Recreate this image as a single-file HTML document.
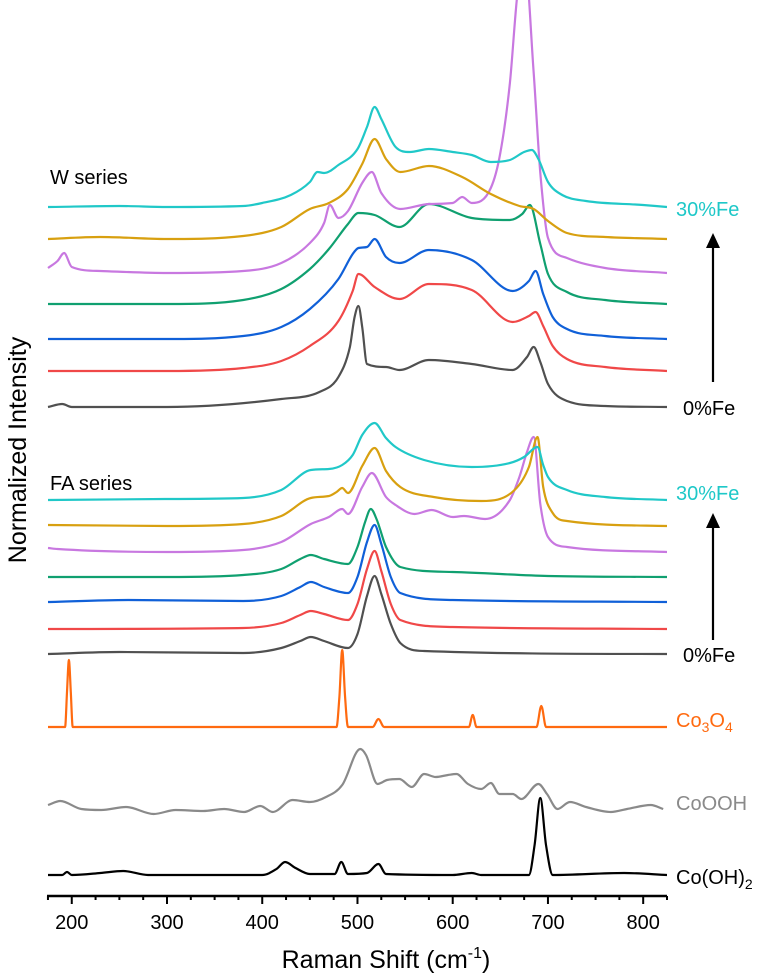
<!DOCTYPE html>
<html><head><meta charset="utf-8"><style>
html,body{margin:0;padding:0;background:#fff;}
svg{display:block;font-family:"Liberation Sans",Arial,sans-serif;}
</style></head><body>
<svg id="chart" width="774" height="979" viewBox="0 0 774 979" xmlns="http://www.w3.org/2000/svg">
<defs><clipPath id="plotclip"><rect x="47" y="0" width="620" height="896"/></clipPath></defs>
<g id="series" clip-path="url(#plotclip)"></g>
<g id="axis"></g>
<text x="50" y="184" font-size="20" fill="#000">W series</text>
<text x="50" y="490" font-size="20" fill="#000">FA series</text>
<text x="676" y="216" font-size="20" fill="#1ec8c8">30%Fe</text>
<text x="683" y="415" font-size="20" fill="#000">0%Fe</text>
<text x="676" y="500" font-size="20" fill="#1ec8c8">30%Fe</text>
<text x="683" y="662" font-size="20" fill="#000">0%Fe</text>
<text x="676" y="727" font-size="20" fill="#ff6a10">Co<tspan font-size="14" dy="5">3</tspan><tspan dy="-5">O</tspan><tspan font-size="14" dy="5">4</tspan></text>
<text x="676" y="810" font-size="20" fill="#8a8a8a">CoOOH</text>
<text x="676" y="884" font-size="20" fill="#000">Co(OH)<tspan font-size="14" dy="5">2</tspan></text>
<g><line x1="713" y1="382" x2="713" y2="240" stroke="#000" stroke-width="2.2"/><polygon points="713,233 706,248 720,248" fill="#000"/></g>
<g><line x1="713" y1="640" x2="713" y2="520" stroke="#000" stroke-width="2.2"/><polygon points="713,513 706,528 720,528" fill="#000"/></g>
<text transform="translate(26,450) rotate(-90)" text-anchor="middle" font-size="25" fill="#000">Normalized Intensity</text>
<text x="386" y="968" text-anchor="middle" font-size="25" fill="#000">Raman Shift (cm<tspan font-size="16" dy="-10">-1</tspan><tspan dy="10">)</tspan></text>
</svg>
<script>
// ---- data: wavenumbers & relative heights (arbitrary units) ----
const wCyanX=[175,250,300,380,400,430,450,458,465,480,500,510,518,525,540,555,575,600,620,640,660,675,683,690,700,715,740,800,825];
const wCyanY=[0,1,0,1,4,12,25,35,34,42,58,80,100,88,60,55,58,55,52,45,47,55,57,48,25,12,6,2,0];
const wGoldX=[175,230,300,380,420,450,470,490,505,518,530,545,575,610,640,670,685,700,720,760,825];
const wGoldY=[0,2,0,3,12,30,36,50,75,100,80,67,73,62,45,33,30,18,6,2,0];
const wPurpX=[175,185,192,200,230,300,380,420,450,465,471,480,490,505,515,525,545,575,600,610,620,640,650,660,668,675,685,692,700,720,760,825];
const wPurpY=[5,12,20,6,2,0,2,10,30,50,68,55,62,90,101,80,64,69,70,76,70,85,120,190,280,320,200,100,35,15,5,0];
const wGreenX=[175,300,380,420,450,470,490,501,518,544,575,620,660,673,681,692,700,720,760,825];
const wGreenY=[0,0,4,15,35,55,80,91,89,77,100,86,84,90,99,60,30,12,4,0];
const wBlueX=[175,300,380,420,450,480,495,501,510,518,530,544,575,620,663,680,687,695,705,720,760,825];
const wBlueY=[0,0,3,12,30,60,85,91,92,100,82,76,89,79,48,58,68,45,22,10,3,0];
const wRedX=[175,300,380,420,450,480,495,501,518,544,575,620,663,680,687,695,705,720,760,825];
const wRedY=[0,0,3,10,25,50,80,97,84,72,87,81,49,55,59,45,25,12,4,0];
const wGrayX=[175,190,200,300,420,460,480,492,497,501,505,510,530,544,575,620,663,678,685,692,700,720,760,825];
const wGrayY=[0,3,0,0,8,15,30,60,90,101,80,43,40,37,47,43,37,50,60,45,23,6,1,0];
const faCyanX=[175,300,380,420,451,470,484,495,505,518,530,540,570,620,660,675,689,695,700,720,760,825];
const faCyanY=[0,1,2,10,30,31,35,45,65,77,62,53,40,33,37,43,53,35,23,10,3,0];
const faGoldX=[175,300,380,420,451,470,478,484,490,505,518,530,545,580,630,665,680,689,695,705,720,825];
const faGoldY=[1,0,2,10,28,30,34,38,33,60,78,55,39,29,25,36,59,89,39,13,5,0];
const faPurpX=[175,185,300,380,420,451,470,484,490,505,515,530,540,560,578,600,612,634,660,670,678,685,692,700,720,825];
const faPurpY=[4,3,0,2,10,28,35,43,38,65,79,55,47,38,42,35,36,33,52,75,100,115,48,15,5,0];
const faGreenX=[175,300,380,420,440,451,465,490,500,508,514,520,530,545,600,700,825];
const faGreenY=[0,0,2,8,18,22,18,13,30,55,68,58,30,10,5,1,0];
const faBlueX=[175,260,380,420,440,451,465,490,500,510,518,525,535,545,600,825];
const faBlueY=[0,2,1,6,15,20,15,9,25,60,77,58,25,9,2,0];
const faRedX=[175,380,420,440,451,465,490,500,510,518,525,535,545,600,825];
const faRedY=[0,1,6,14,18,15,9,25,60,78,58,25,9,2,0];
const faGrayX=[175,250,380,420,440,451,465,490,500,510,518,525,535,545,570,825];
const faGrayY=[0,2,1,6,13,17,13,6,20,58,78,60,30,11,3,0];
const co3o4X=[175,193,195,197,199,201,300,400,478,481,484,487,490,516,522,528,600,617,621,625,688,693,698,825];
const co3o4Y=[0,0,35,67,35,0,0,0,0,30,77,30,0,0,8,0,0,0,12,0,0,21,0,0];
const coohX=[175,188,210,231,257,286,309,338,360,381,398,411,432,450,467,484,503,509,521,531,544,557,570,582,595,604,616,630,640,649,663,672,690,699,710,723,740,766,783,808,821];
const coohY=[2,6,-2,-3,0,-7,-3,-4,-2,-5,1,-5,7,5,10,22,58,52,23,27,28,20,33,30,32,33,23,18,24,13,13,8,23,13,-2,5,0,-5,-2,2,-2];
const cohX=[175,190,195,200,230,254,280,400,415,424,435,450,476,483,490,510,522,530,600,620,630,680,686,692,698,705,780,825];
const cohY=[0,0,3,0,2,4,0,0,6,13,7,1,1,13,1,2,11,1,0,2,0,0,30,77,30,0,2,0];

// ---- axis functions ----
const X0=47, X1=667, V0=174, V1=825;
function xs(v){return X0+(v-V0)/(V1-V0)*(X1-X0);}
function ys(base,h){return base-h;}

const g=document.getElementById('series');
const NS='http://www.w3.org/2000/svg';
// monotone cubic path through screen points
function monoPath(px,py){
  const n=px.length, d=[], m=new Array(n);
  for(let i=0;i<n-1;i++) d.push((py[i+1]-py[i])/(px[i+1]-px[i]));
  m[0]=d[0]; m[n-1]=d[n-2];
  for(let i=1;i<n-1;i++){ m[i]=(d[i-1]*d[i]<=0)?0:(d[i-1]+d[i])/2; }
  for(let i=0;i<n-1;i++){
    if(d[i]===0){m[i]=0;m[i+1]=0;continue;}
    const a=m[i]/d[i], b=m[i+1]/d[i], s=a*a+b*b;
    if(s>9){const t=3/Math.sqrt(s); m[i]=t*a*d[i]; m[i+1]=t*b*d[i];}
  }
  let s='M'+px[0].toFixed(1)+','+py[0].toFixed(1);
  for(let i=0;i<n-1;i++){
    const h=(px[i+1]-px[i])/3;
    s+=' C'+(px[i]+h).toFixed(1)+','+(py[i]+m[i]*h).toFixed(1)+' '+(px[i+1]-h).toFixed(1)+','+(py[i+1]-m[i+1]*h).toFixed(1)+' '+px[i+1].toFixed(1)+','+py[i+1].toFixed(1);
  }
  return s;
}
function drawSeries(name,xsArr,ysArr,base,color){
  const p=document.createElementNS(NS,'path');
  
  
  p.setAttribute('d',monoPath(xsArr.map(v=>xs(v)),ysArr.map(h=>ys(base,h))));
  p.setAttribute('fill','none');
  p.setAttribute('stroke',color);
  p.setAttribute('stroke-width','2.2');
  p.setAttribute('stroke-linejoin','round');
  g.appendChild(p);
}
drawSeries('w-series-0fe',wGrayX,wGrayY,407,'#505050');
drawSeries('w-series-red',wRedX,wRedY,371,'#f04848');
drawSeries('w-series-blue',wBlueX,wBlueY,339,'#1060d8');
drawSeries('w-series-green',wGreenX,wGreenY,304,'#10a070');
drawSeries('w-series-purple',wPurpX,wPurpY,273,'#c878e0');
drawSeries('w-series-gold',wGoldX,wGoldY,239,'#d8a010');
drawSeries('w-series-30fe',wCyanX,wCyanY,207,'#20c8c8');
drawSeries('fa-series-0fe',faGrayX,faGrayY,654,'#505050');
drawSeries('fa-series-red',faRedX,faRedY,629,'#f04848');
drawSeries('fa-series-blue',faBlueX,faBlueY,602,'#1060d8');
drawSeries('fa-series-green',faGreenX,faGreenY,577,'#10a070');
drawSeries('fa-series-purple',faPurpX,faPurpY,552,'#c878e0');
drawSeries('fa-series-gold',faGoldX,faGoldY,526,'#d8a010');
drawSeries('fa-series-30fe',faCyanX,faCyanY,500,'#20c8c8');
drawSeries('co3o4-spectrum',co3o4X,co3o4Y,727,'#ff6a10');
drawSeries('cooh-spectrum',coohX,coohY,807,'#8a8a8a');
drawSeries('coh2-spectrum',cohX,cohY,875,'#000000');

// ---- x axis ----
const ticks=[200,300,400,500,600,700,800];
const ax=document.getElementById('axis');
const base=document.createElementNS(NS,'line');


base.setAttribute('x1',X0);base.setAttribute('x2',X1);base.setAttribute('y1',896);base.setAttribute('y2',896);
base.setAttribute('stroke','#000');base.setAttribute('stroke-width','2.5');
ax.appendChild(base);
for(let v=175;v<=825;v+=25){
  const major=ticks.includes(v);
  const t=document.createElementNS(NS,'line');
  
  
  t.setAttribute('x1',xs(v));t.setAttribute('x2',xs(v));
  t.setAttribute('y1',896);t.setAttribute('y2',major?904:900);
  t.setAttribute('stroke','#000');t.setAttribute('stroke-width','2');
  ax.appendChild(t);
}
ticks.forEach(v=>{
  const t=document.createElementNS(NS,'text');
  
  
  t.setAttribute('x',xs(v));t.setAttribute('y',929);
  t.setAttribute('text-anchor','middle');t.setAttribute('font-size','20');
  t.textContent=v;
  ax.appendChild(t);
});
</script>
</body></html>
